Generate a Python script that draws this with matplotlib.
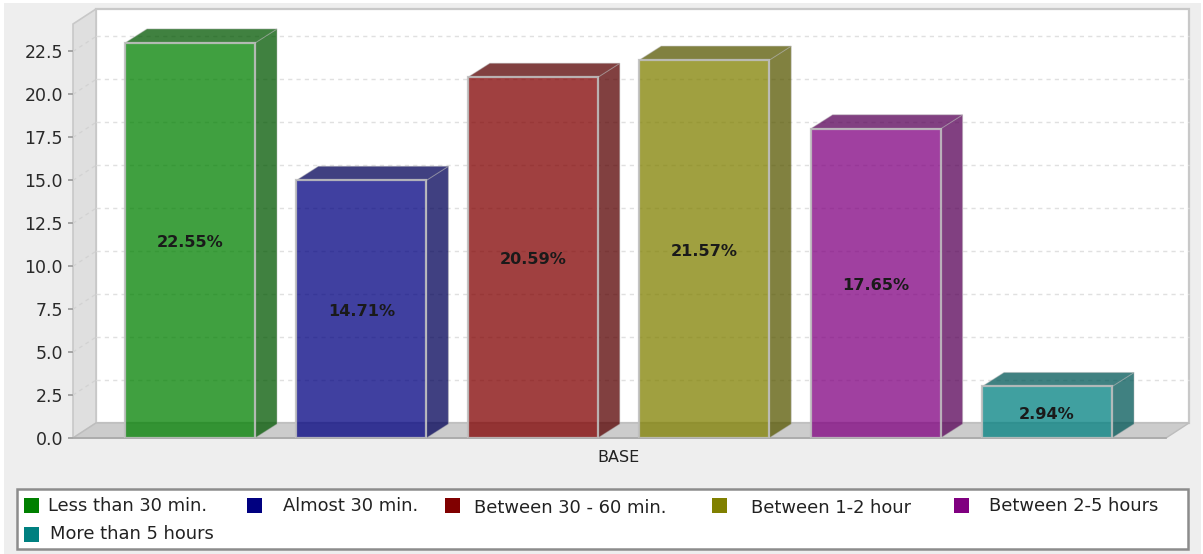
import numpy as np
import matplotlib
matplotlib.use('Agg')
import matplotlib.pyplot as plt
from matplotlib.patches import Polygon, Rectangle

categories = ['Less than 30 min.', 'Almost 30 min.', 'Between 30 - 60 min.',
              'Between 1-2 hour', 'Between 2-5 hours', 'More than 5 hours']
values = [22.55, 14.71, 20.59, 21.57, 17.65, 2.94]
value_labels = ['22.55%', '14.71%', '20.59%', '21.57%', '17.65%', '2.94%']
colors = ['#008000', '#000080', '#800000', '#808000', '#800080', '#008080']
tick_labels = ['0.0', '2.5', '5.0', '7.5', '10.0', '12.5', '15.0', '17.5', '20.0', '22.5']
group_label = 'BASE'

W, H = 1203, 554
BAR_PX = 17.52       # px per unit for the bars
TICK_PX = 17.18      # px per unit for the axis ticks
STEP_PX = 171.4      # px between bars
BAR_W = 130 / STEP_PX
DX, DY = 22 / STEP_PX, 14 / BAR_PX        # bar depth
WX, WY = 23 / STEP_PX, 15 / BAR_PX        # wall depth


def shade(c, f):
    r, g, b = matplotlib.colors.to_rgb(c)
    return (r * f, g * f, b * f)


fig = plt.figure(figsize=(W / 100, H / 100), dpi=100, facecolor='white')
# grey chart background, kept behind the axes
fig.add_artist(Rectangle((4 / W, 0), (W - 6) / W, (H - 3) / H, transform=fig.transFigure,
                         fc='#eeeeee', ec='none', zorder=-5))

ax = fig.add_axes([73 / W, (H - 438) / H, (1166 - 73) / W, (438 - 24) / H])
ax.set_facecolor('none')
x0, x1 = (73 - 190) / STEP_PX, (1166 - 190) / STEP_PX
ax.set_xlim(x0, x1)
ax.set_ylim(0, (438 - 24) / BAR_PX)
for s in ax.spines.values():
    s.set_visible(False)

tick_pos = [float(t) * TICK_PX / BAR_PX for t in tick_labels]
top = (438 - 24) / BAR_PX   # top of the walls at the front edge
kw = dict(clip_on=False)

# back wall, left wall, floor
ax.add_patch(Polygon([(x0 + WX, WY), (x1 + WX, WY), (x1 + WX, top + WY), (x0 + WX, top + WY)],
                     fc='white', ec='#c8c8c8', lw=1.6, zorder=1, **kw))
ax.add_patch(Polygon([(x0, 0), (x0 + WX, WY), (x0 + WX, top + WY), (x0, top)],
                     fc='#dfdfdf', ec='#c8c8c8', lw=1.2, zorder=1, **kw))
ax.add_patch(Polygon([(x0, 0), (x1, 0), (x1 + WX, WY), (x0 + WX, WY)],
                     fc='#cccccc', ec='#bdbdbd', lw=1.0, zorder=1, **kw))

# dotted gridlines on the walls
for t in tick_pos[1:]:
    ax.plot([x0, x0 + WX], [t, t + WY], color='#d2d2d2', lw=0.9, ls=(0, (3, 3)), zorder=2, **kw)
    ax.plot([x0 + WX, x1 + WX], [t + WY, t + WY], color='#e0e0e0', lw=1, ls=(0, (3, 3)), zorder=2, **kw)
ax.plot([x0, x1], [0, 0], color='#a8a8a8', lw=1.2, zorder=3, **kw)

# bars: front face plus top and side polygons
xs = np.arange(len(values))
edge = (0.75, 0.75, 0.75, 0.9)
for x, v, c, lab in zip(xs, values, colors, value_labels):
    l, r = x - BAR_W / 2, x + BAR_W / 2
    dark = shade(c, 0.68)
    ax.add_patch(Polygon([(r, 0), (r + DX, DY), (r + DX, v + DY), (r, v)],
                         fc=dark + (0.75,), ec=(0.7, 0.7, 0.7, 0.4), lw=0.8, zorder=4, **kw))
    ax.add_patch(Polygon([(l, v), (r, v), (r + DX, v + DY), (l + DX, v + DY)],
                         fc=dark + (0.75,), ec=(0.7, 0.7, 0.7, 0.4), lw=0.8, zorder=4, **kw))
    ax.bar(x, v, BAR_W, color=matplotlib.colors.to_rgb(c) + (0.75,), edgecolor=edge, linewidth=1.6,
           zorder=5)
    ax.annotate(lab, (x, v / 2), xytext=(0, -1.5), textcoords='offset points', ha='center', va='center',
                fontsize=11.6, fontweight='bold', color='#1a1a1a', zorder=6)

ax.set_yticks(tick_pos, tick_labels, fontsize=12.5, color='#2a2a2a')
ax.tick_params(axis='y', length=3.6, width=1.2, color='#999999', pad=3.6)
ax.set_xticks([2.5], [group_label], fontsize=11.5, color='#222222')
ax.tick_params(axis='x', length=0, pad=9)

# legend box laid out by hand, the columns are uneven
fig.add_artist(Rectangle((17 / W, (H - 549) / H), (1188 - 17) / W, 60 / H, transform=fig.transFigure,
                         fc='white', ec='#8c8c8c', lw=1.8))
swatch_x = [24, 247, 445, 712, 954, 24]
text_x = [48, 283, 474, 751, 989, 50]
row_y = [506, 506, 508, 508, 506, 534]
for name, c, sx, tx, y in zip(categories, colors, swatch_x, text_x, row_y):
    sy = 505 if y < 520 else 534
    fig.add_artist(Rectangle((sx / W, (H - sy - 7.5) / H), 15 / W, 15 / H, transform=fig.transFigure,
                             fc=c, ec='none'))
    fig.text(tx / W, (H - y) / H, name, ha='left', va='center', fontsize=12.9,
             family='DejaVu Sans', color='#222222')

fig.savefig('out.png', dpi=100, facecolor=fig.get_facecolor())
